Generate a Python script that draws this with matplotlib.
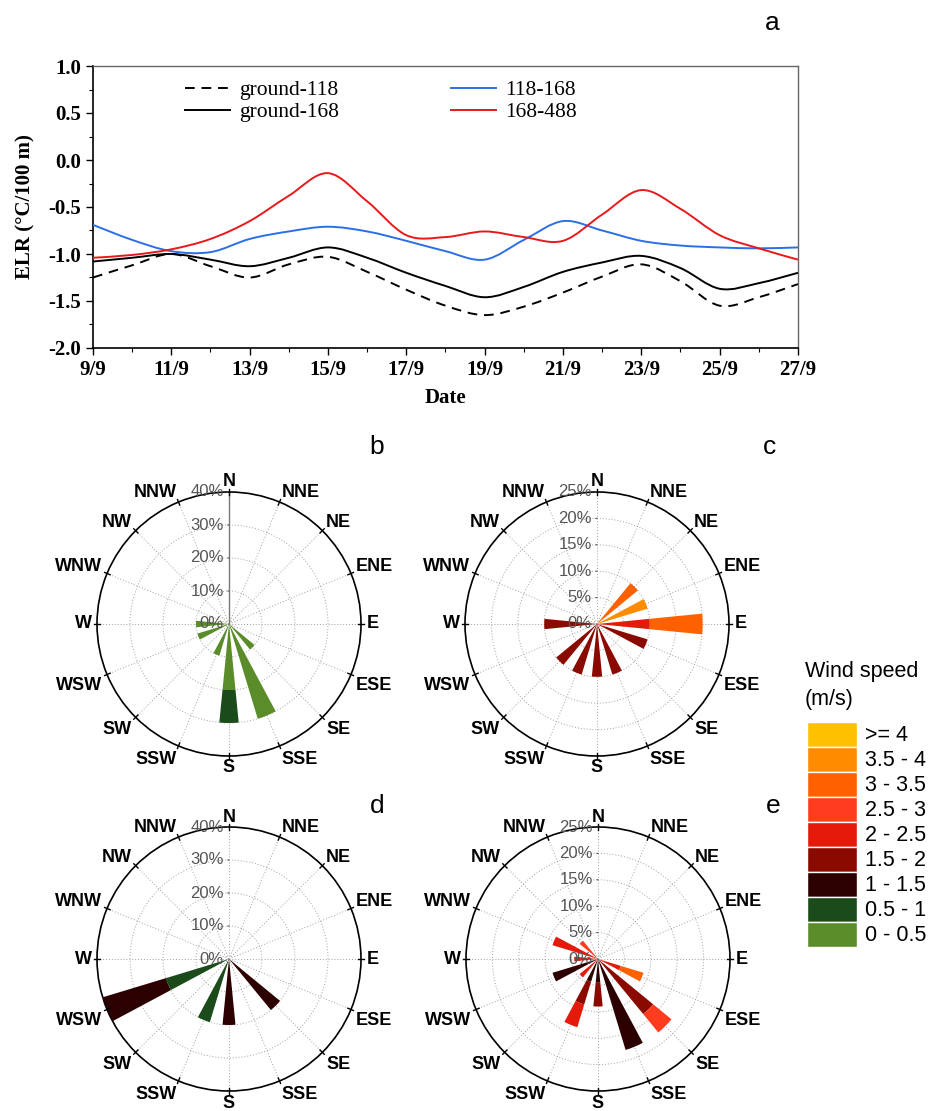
import numpy as np
import matplotlib
matplotlib.use('Agg')
import matplotlib.pyplot as plt
from matplotlib.path import Path
from matplotlib.patches import PathPatch, Rectangle
from matplotlib.lines import Line2D

# ---------------- data: panel a ----------------
days = [9, 10, 11, 12, 13, 14, 15, 16, 17, 18, 19, 20, 21, 22, 23, 24, 25, 26, 27]
day_ticks = [9, 11, 13, 15, 17, 19, 21, 23, 25, 27]
day_tick_labels = ['9/9', '11/9', '13/9', '15/9', '17/9', '19/9', '21/9', '23/9', '25/9', '27/9']
y_ticks = [-2.0, -1.5, -1.0, -0.5, 0.0, 0.5, 1.0]
y_tick_labels = ['-2.0', '-1.5', '-1.0', '-0.5', '0.0', '0.5', '1.0']

elr_ground_118 = [-1.25, -1.12, -1.00, -1.13, -1.25, -1.11, -1.03, -1.19, -1.38, -1.55,
                  -1.65, -1.56, -1.41, -1.24, -1.11, -1.29, -1.55, -1.46, -1.32]
elr_ground_168 = [-1.08, -1.04, -1.00, -1.06, -1.13, -1.04, -0.93, -1.04, -1.20, -1.34,
                  -1.46, -1.35, -1.19, -1.09, -1.02, -1.15, -1.37, -1.31, -1.20]
elr_118_168 = [-0.69, -0.85, -0.97, -0.98, -0.84, -0.76, -0.71, -0.76, -0.86, -0.97,
               -1.06, -0.85, -0.65, -0.75, -0.86, -0.91, -0.93, -0.94, -0.93]
elr_168_488 = [-1.04, -1.01, -0.95, -0.84, -0.65, -0.38, -0.14, -0.44, -0.80, -0.82,
               -0.76, -0.82, -0.86, -0.58, -0.32, -0.52, -0.80, -0.94, -1.06]

# ---------------- data: wind roses ----------------
directions = ['N', 'NNE', 'NE', 'ENE', 'E', 'ESE', 'SE', 'SSE',
              'S', 'SSW', 'SW', 'WSW', 'W', 'WNW', 'NW', 'NNW']
speed_bins = ['0 - 0.5', '0.5 - 1', '1 - 1.5', '1.5 - 2', '2 - 2.5',
              '2.5 - 3', '3 - 3.5', '3.5 - 4', '>= 4']
speed_colors = ['#5b8c2a', '#1b4a1b', '#2d0000', '#8a0a00', '#e41a0a',
                '#ff3c1e', '#ff6000', '#ff8c00', '#ffc000']

#            N  NNE NE ENE E  ESE SE SSE S  SSW SW WSW W  WNW NW NNW
rose_b = {
    '0 - 0.5': [0, 0, 0, 0, 0, 0, 10, 30, 20, 10, 0, 10, 10, 0, 0, 0],
    '0.5 - 1': [0, 0, 0, 0, 0, 0, 0, 0, 10, 0, 0, 0, 0, 0, 0, 0],
}
rose_c = {
    '1.5 - 2': [0, 0, 0, 0, 0, 10, 0, 10, 10, 10, 10, 0, 10, 0, 0, 0],
    '2 - 2.5': [0, 0, 0, 0, 10, 0, 0, 0, 0, 0, 0, 0, 0, 0, 0, 0],
    '3 - 3.5': [0, 0, 10, 0, 10, 0, 0, 0, 0, 0, 0, 0, 0, 0, 0, 0],
    '3.5 - 4': [0, 0, 0, 10, 0, 0, 0, 0, 0, 0, 0, 0, 0, 0, 0, 0],
}
rose_d = {
    '0.5 - 1': [0, 0, 0, 0, 0, 0, 0, 0, 0, 20, 0, 20, 0, 0, 0, 0],
    '1 - 1.5': [0, 0, 0, 0, 0, 0, 20, 0, 20, 0, 0, 20, 0, 0, 0, 0],
}
rose_e = {
    '1 - 1.5': [0, 0, 0, 0, 0, 0, 0, 18.0, 4.5, 4.5, 0, 9.0, 0, 0, 0, 0],
    '1.5 - 2': [0, 0, 0, 0, 0, 0, 13.5, 0, 4.5, 4.5, 0, 0, 0, 0, 0, 0],
    '2 - 2.5': [0, 0, 0, 0, 0, 4.5, 0, 0, 0, 4.5, 4.5, 0, 4.5, 9.0, 0, 0],
    '2.5 - 3': [0, 0, 0, 0, 0, 0, 4.5, 0, 0, 0, 0, 0, 0, 0, 4.5, 0],
    '3 - 3.5': [0, 0, 0, 0, 0, 4.5, 0, 0, 0, 0, 0, 0, 0, 0, 0, 0],
}
rticks_40 = [0, 10, 20, 30, 40]
rticks_25 = [0, 5, 10, 15, 20, 25]

SERIF = 'Liberation Serif'
SANS = 'Liberation Sans'

W, H = 929, 1111
fig = plt.figure(figsize=(W / 100, H / 100), dpi=100)
fig.patch.set_facecolor('white')


def px_rect(left, top, right, bottom):
    return [left / W, 1 - bottom / H, (right - left) / W, (bottom - top) / H]


def smooth_path(x, y):
    pts = np.column_stack([x, y]).astype(float)
    ext = np.vstack([pts[0], pts, pts[-1]])
    verts = [pts[0]]
    codes = [Path.MOVETO]
    for i in range(len(pts) - 1):
        p0, p1, p2, p3 = ext[i], ext[i + 1], ext[i + 2], ext[i + 3]
        c1 = p1 + (p2 - p0) / 6.0
        c2 = p2 - (p3 - p1) / 6.0
        verts += [c1, c2, p2]
        codes += [Path.CURVE4] * 3
    return Path(verts, codes)


# ---------------- panel a ----------------
ax = fig.add_axes(px_rect(93, 66, 798, 348))
series = [
    (elr_ground_118, 'black', (0, (5, 3.5)), 'ground-118'),
    (elr_ground_168, 'black', '-', 'ground-168'),
    (elr_118_168, '#2a6fe6', '-', '118-168'),
    (elr_168_488, '#e8191c', '-', '168-488'),
]
handles = []
for vals, col, ls, lab in series:
    ax.add_patch(PathPatch(smooth_path(days, vals), fill=False, edgecolor=col,
                           linestyle=ls, linewidth=1.4, zorder=3))
    handles.append(Line2D([], [], color=col, linestyle=ls, linewidth=1.4, label=lab))

ax.set_xlim(days[0], days[-1])
ax.set_ylim(-2.0, 1.0)
ax.set_xticks(day_ticks)
ax.set_xticklabels(day_tick_labels)
ax.set_xticks(days, minor=True)
ax.set_yticks(y_ticks)
ax.set_yticklabels(y_tick_labels)
ax.set_yticks(np.arange(-2.0, 1.01, 0.25), minor=True)
ax.tick_params(which='major', direction='out', length=5, width=1, pad=3.5)
ax.tick_params(which='minor', direction='out', length=3, width=0.8)
for lab in ax.get_xticklabels() + ax.get_yticklabels():
    lab.set_fontfamily(SERIF)
    lab.set_fontweight('bold')
    lab.set_fontsize(15)
for s in ['left', 'bottom']:
    ax.spines[s].set_linewidth(1.2)
    ax.spines[s].set_color('black')
for s in ['top', 'right']:
    ax.spines[s].set_linewidth(1.0)
    ax.spines[s].set_color('#666666')
ax.set_xlabel('Date', fontfamily=SERIF, fontweight='bold', fontsize=15, labelpad=6)
ax.set_ylabel('ELR (°C/100 m)', fontfamily=SERIF, fontweight='bold', fontsize=15, labelpad=9)
ax.legend(handles=handles, ncol=2, loc='upper left', bbox_to_anchor=(0.13, 0.95),
          frameon=False, prop={'family': SERIF, 'size': 15.5}, handlelength=2.1,
          columnspacing=5.2, labelspacing=0.1, handletextpad=0.42,
          borderpad=0, borderaxespad=0)

# ---------------- wind roses ----------------
LABEL_FS = 13


def draw_rose(center, radius, data, rticks, solid_north=False):
    cx, cy = center
    rax = fig.add_axes(px_rect(cx - radius, cy - radius, cx + radius, cy + radius),
                       projection='polar')
    rax.set_theta_zero_location('N')
    rax.set_theta_direction(-1)
    theta = np.radians(np.arange(len(directions)) * 22.5)
    bottom = np.zeros(len(directions))
    for b, col in zip(speed_bins, speed_colors):
        if b in data:
            vals = np.array(data[b], dtype=float)
            rax.bar(theta, vals, width=np.radians(11.25), bottom=bottom, color=col,
                    edgecolor='none', zorder=3, align='center')
            bottom = bottom + vals
    rmax = rticks[-1]
    rax.set_ylim(0, rmax)
    rax.set_yticks(rticks)
    rax.set_yticklabels([])
    rax.set_xticks(theta)
    rax.set_xticklabels([])
    rax.grid(True, linestyle=(0, (1, 2)), color='#a0a0a0', linewidth=0.7)
    rax.spines['polar'].set_color('black')
    rax.spines['polar'].set_linewidth(1.2)
    rax.tick_params(axis='y', length=0)
    # small tick marks on the outer circle
    for th in theta:
        rax.plot([th, th], [rmax * 0.975, rmax * 1.02], color='black', lw=1.0,
                 clip_on=False, zorder=4)
    if solid_north:
        rax.plot([0, 0], [0, rmax], color='#777777', lw=1.0, zorder=2)
    for r in rticks:
        rax.annotate(f'{r}%', xy=(0, r), xytext=(-5, 0), textcoords='offset pixels',
                     ha='right', va='center', color='#555555', fontsize=12,
                     fontfamily=SANS, annotation_clip=False, zorder=5)
        if r > 0:
            rax.annotate('', xy=(0, r), xytext=(-4, 0), textcoords='offset pixels',
                         arrowprops=dict(arrowstyle='-', color='#555555', lw=0.8),
                         annotation_clip=False)
    for d, th in zip(directions, theta):
        s, c = np.sin(th), np.cos(th)
        ha = 'left' if s > 0.01 else ('right' if s < -0.01 else 'center')
        va = 'baseline' if c > 0.01 else ('top' if c < -0.01 else 'center')
        off = 3.5 if d == 'S' else 5.5
        rax.annotate(d, xy=(th, rmax), xytext=(off * s, off * c),
                     textcoords='offset pixels', ha=ha, va=va,
                     fontsize=LABEL_FS, fontweight='bold', fontfamily=SANS,
                     annotation_clip=False)
    return rax


draw_rose((229, 624), 132, rose_b, rticks_40, solid_north=True)
draw_rose((597, 624), 132, rose_c, rticks_25)
draw_rose((229, 959), 132, rose_d, rticks_40)
draw_rose((598, 959), 132, rose_e, rticks_25)

# panel letters
for letter, (x, y) in zip(['a', 'b', 'c', 'd', 'e'],
                          [(772, 23), (377, 447), (770, 447), (377, 806), (773, 806)]):
    fig.text(x / W, 1 - y / H, letter, ha='center', va='center', fontsize=19,
             fontfamily=SANS)

# ---------------- wind speed legend ----------------
lax = fig.add_axes(px_rect(795, 645, 929, 960))
lax.set_xlim(795, 929)
lax.set_ylim(960, 645)
lax.axis('off')
lax.text(805, 672, 'Wind speed', ha='left', va='center', fontsize=15.5, fontfamily=SANS)
lax.text(805, 699, '(m/s)', ha='left', va='center', fontsize=15.5, fontfamily=SANS)
row_h = 25
top0 = 722
for i, (b, col) in enumerate(zip(speed_bins[::-1], speed_colors[::-1])):
    y0 = top0 + i * row_h
    lax.add_patch(Rectangle((807, y0), 50, row_h, facecolor=col, edgecolor='white',
                            linewidth=1.0))
    lax.text(865, y0 + row_h / 2 + 1, b, ha='left', va='center', fontsize=15.5,
             fontfamily=SANS)

fig.savefig('out.png', dpi=100, facecolor='white')
